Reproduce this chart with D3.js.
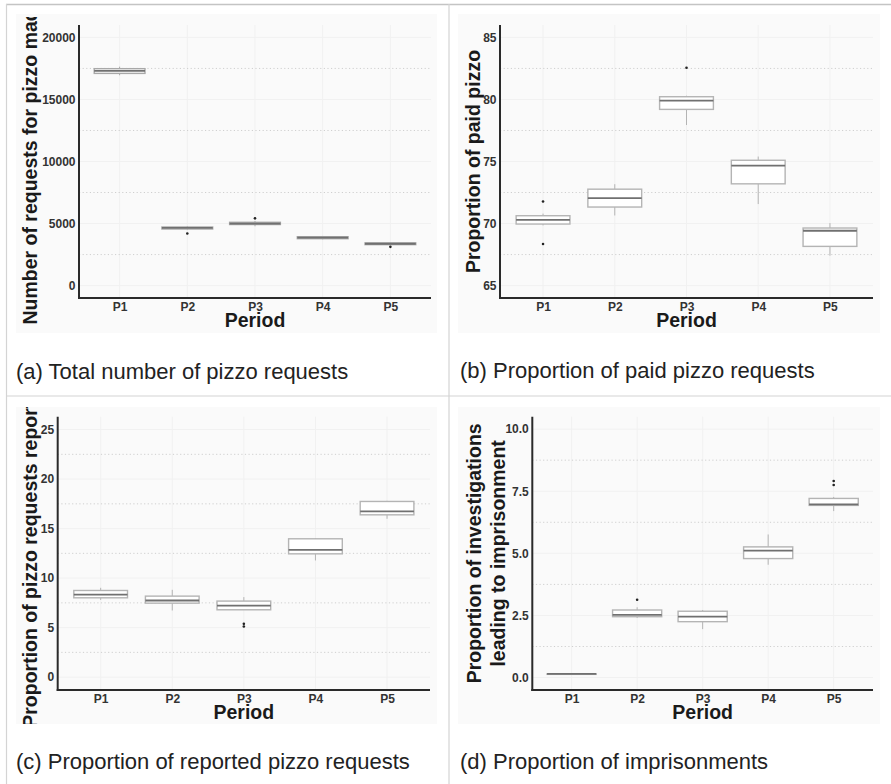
<!DOCTYPE html>
<html lang="en">
<head>
<meta charset="UTF-8">
<title>Pizzo requests by period</title>
<script src="https://d3js.org/d3.v7.min.js"></script>
<style>
  body { margin: 0; background: #fff; }
  svg text { font-family: "Liberation Sans", Arial, Helvetica, sans-serif; }
</style>
</head>
<body>
<div id="chart"></div>
<script>
// periods on the x axis
const periods = ["P1", "P2", "P3", "P4", "P5"];

// each row: [lower whisker, q1, median, q3, upper whisker]
const totalRequests = [
  [16950, 17100, 17300, 17480, 17640],
  [4520, 4560, 4650, 4720, 4780],
  [4780, 4920, 5000, 5100, 5200],
  [3730, 3780, 3860, 3940, 4000],
  [3280, 3300, 3370, 3440, 3460]
];
const totalOutliers = [[], [4200], [5420], [], [3120]];

const paidProportion = [
  [69.85, 69.96, 70.3, 70.63, 70.8],
  [70.65, 71.33, 72.05, 72.77, 73.17],
  [77.94, 79.2, 79.9, 80.22, 80.3],
  [71.57, 73.2, 74.67, 75.1, 75.4],
  [67.41, 68.16, 69.42, 69.64, 70.04]
];
const paidOutliers = [[71.78, 68.35], [], [82.55], [], []];

const reportedProportion = [
  [7.8, 8.01, 8.34, 8.75, 9.02],
  [6.73, 7.47, 7.74, 8.18, 8.82],
  [6.8, 6.8, 7.23, 7.68, 8.08],
  [11.78, 12.45, 12.86, 13.97, 14.04],
  [15.99, 16.39, 16.73, 17.74, 17.8]
];
const reportedOutliers = [[], [], [5.38, 5.11], [], []];

const imprisonProportion = [
  [0.15, 0.15, 0.15, 0.15, 0.15],
  [2.4, 2.45, 2.52, 2.72, 2.83],
  [1.95, 2.25, 2.45, 2.67, 2.72],
  [4.54, 4.79, 5.11, 5.26, 5.76],
  [6.7, 6.93, 6.97, 7.21, 7.27]
];
const imprisonOutliers = [[], [3.13], [], [], [7.91, 7.75]];

// tick labels
const ticksA = [0, 5000, 10000, 15000, 20000];
const ticksB = [65, 70, 75, 80, 85];
const ticksC = [0, 5, 10, 15, 20, 25];
const ticksD = [0, 2.5, 5, 7.5, 10];

const svg = d3.select('#chart')
  .append('svg')
  .attr('width', 891)
  .attr('height', 784);

// frame lines round the four figures
svg.append('line').attr('x1', 6).attr('x2', 891).attr('y1', 4.5).attr('y2', 4.5)
  .attr('stroke', '#c4c4c4').attr('stroke-width', 1.5);
svg.append('line').attr('x1', 6.5).attr('x2', 6.5).attr('y1', 4).attr('y2', 784)
  .attr('stroke', '#d4d4d4').attr('stroke-width', 1.2);
svg.append('line').attr('x1', 449).attr('x2', 449).attr('y1', 4).attr('y2', 784)
  .attr('stroke', '#d4d4d4').attr('stroke-width', 1.2);
svg.append('line').attr('x1', 6).attr('x2', 891).attr('y1', 396).attr('y2', 396)
  .attr('stroke', '#d4d4d4').attr('stroke-width', 1.2);

const panels = [
  {
    id: 'a', stats: totalRequests, outliers: totalOutliers, ticks: ticksA,
    domain: [-1000, 21000], fmt: d3.format('d'),
    bg: [16, 14, 437, 333], clipTop: 17, x0: 79, x1: 431, y0: 25, y1: 298,
    title: ['Number of requests for pizzo made'], titleX: [36.5],
    caption: '(a) Total number of pizzo requests', capX: 16, capY: 378.5,
    boxColor: '#a8a8a8'
  },
  {
    id: 'b', stats: paidProportion, outliers: paidOutliers, ticks: ticksB,
    domain: [64, 86], fmt: d3.format('d'),
    bg: [458, 14, 880, 333], clipTop: 14, x0: 500, x1: 873, y0: 25, y1: 298,
    title: ['Proportion of paid pizzo'], titleX: [480],
    caption: '(b) Proportion of paid pizzo requests', capX: 460, capY: 377.5,
    boxColor: '#b4b4b4'
  },
  {
    id: 'c', stats: reportedProportion, outliers: reportedOutliers, ticks: ticksC,
    domain: [-1.3, 26.3], fmt: d3.format('d'),
    bg: [16, 407, 437, 724], clipTop: 407, x0: 57.7, x1: 430, y0: 416.7, y1: 690,
    title: ['Proportion of pizzo requests reported'], titleX: [37],
    caption: '(c) Proportion of reported pizzo requests', capX: 16, capY: 769,
    boxColor: '#b4b4b4'
  },
  {
    id: 'd', stats: imprisonProportion, outliers: imprisonOutliers, ticks: ticksD,
    domain: [-0.5, 10.5], fmt: d3.format('.1f'),
    bg: [458, 407, 880, 724], clipTop: 407, x0: 532.3, x1: 873, y0: 416.7, y1: 690,
    title: ['Proportion of investigations', 'leading to imprisonment'], titleX: [481, 505],
    caption: '(d) Proportion of imprisonments', capX: 460, capY: 769,
    boxColor: '#b4b4b4'
  }
];

panels.forEach(p => {
  const g = svg.append('g');

  // panel background
  g.append('rect')
    .attr('x', p.bg[0]).attr('y', p.bg[1])
    .attr('width', p.bg[2] - p.bg[0]).attr('height', p.bg[3] - p.bg[1])
    .attr('fill', '#fafafa');

  svg.append('clipPath').attr('id', 'clip-' + p.id)
    .append('rect')
    .attr('x', p.bg[0]).attr('y', p.clipTop)
    .attr('width', p.bg[2] - p.bg[0]).attr('height', p.bg[3] - p.clipTop);

  const x = d3.scalePoint().domain(periods).range([p.x0, p.x1]).padding(0.6);
  const y = d3.scaleLinear().domain(p.domain).range([p.y1, p.y0]);
  const boxW = x.step() * 0.75;

  // major grid (very faint) and dotted minor grid
  const minor = p.ticks.slice(1).map((t, i) => (t + p.ticks[i]) / 2);
  g.selectAll('.gmaj').data(p.ticks).enter().append('line')
    .attr('x1', p.x0).attr('x2', p.x1)
    .attr('y1', d => y(d)).attr('y2', d => y(d))
    .attr('stroke', '#f1f1f1').attr('stroke-width', 1);
  g.selectAll('.gvert').data(periods).enter().append('line')
    .attr('x1', d => x(d)).attr('x2', d => x(d))
    .attr('y1', p.y0).attr('y2', p.y1)
    .attr('stroke', '#f1f1f1').attr('stroke-width', 1);
  g.selectAll('.gmin').data(minor).enter().append('line')
    .attr('x1', p.x0).attr('x2', p.x1)
    .attr('y1', d => y(d)).attr('y2', d => y(d))
    .attr('stroke', '#cfcfcf').attr('stroke-width', 1)
    .attr('stroke-dasharray', '1.2,2.4');

  // boxplots
  const boxes = g.selectAll('.box').data(p.stats).enter().append('g');
  boxes.append('line')
    .attr('x1', (d, i) => x(periods[i])).attr('x2', (d, i) => x(periods[i]))
    .attr('y1', d => y(d[4])).attr('y2', d => y(d[3]))
    .attr('stroke', p.boxColor).attr('stroke-width', 1);
  boxes.append('line')
    .attr('x1', (d, i) => x(periods[i])).attr('x2', (d, i) => x(periods[i]))
    .attr('y1', d => y(d[1])).attr('y2', d => y(d[0]))
    .attr('stroke', p.boxColor).attr('stroke-width', 1);
  boxes.append('rect')
    .attr('x', (d, i) => x(periods[i]) - boxW / 2)
    .attr('y', d => y(d[3]))
    .attr('width', boxW)
    .attr('height', d => Math.max(0.5, y(d[1]) - y(d[3])))
    .attr('fill', '#ffffff')
    .attr('stroke', p.boxColor).attr('stroke-width', 1.4);
  boxes.append('line')
    .attr('x1', (d, i) => x(periods[i]) - boxW / 2)
    .attr('x2', (d, i) => x(periods[i]) + boxW / 2)
    .attr('y1', d => y(d[2])).attr('y2', d => y(d[2]))
    .attr('stroke', '#707070').attr('stroke-width', 1.8);

  // outlier points
  p.outliers.forEach((arr, i) => {
    g.selectAll(null).data(arr).enter().append('circle')
      .attr('cx', x(periods[i]))
      .attr('cy', d => y(d))
      .attr('r', 1.3)
      .attr('fill', '#222');
  });

  // axis lines
  g.append('line').attr('x1', p.x0).attr('x2', p.x0).attr('y1', p.y0).attr('y2', p.y1 + 1)
    .attr('stroke', '#2a2a2a').attr('stroke-width', 2);
  g.append('line').attr('x1', p.x0 - 1).attr('x2', p.x1).attr('y1', p.y1).attr('y2', p.y1)
    .attr('stroke', '#2a2a2a').attr('stroke-width', 2);

  // tick labels
  const yAxis = g.append('g')
    .attr('transform', `translate(${p.x0},0)`)
    .call(d3.axisLeft(y).tickValues(p.ticks).tickFormat(p.fmt).tickSize(0).tickPadding(3.5));
  const xAxis = g.append('g')
    .attr('transform', `translate(0,${p.y1})`)
    .call(d3.axisBottom(x).tickSize(0).tickPadding(4.5));
  [yAxis, xAxis].forEach(a => {
    a.select('.domain').remove();
    a.selectAll('text')
      .attr('fill', '#333')
      .attr('font-size', '12px')
      .attr('font-weight', 'bold')
      .style('font-family', '"Liberation Sans", Arial, sans-serif');
  });

  // axis titles
  g.append('text')
    .attr('x', (p.x0 + p.x1) / 2)
    .attr('y', p.y1 + 28.7)
    .attr('text-anchor', 'middle')
    .attr('font-size', '19.5px')
    .attr('font-weight', 'bold')
    .attr('fill', '#1a1a1a')
    .text('Period');

  const tg = g.append('g').attr('clip-path', `url(#clip-${p.id})`);
  p.title.forEach((t, k) => {
    tg.append('text')
      .attr('transform', `translate(${p.titleX[k]},${(p.y0 + p.y1) / 2}) rotate(-90)`)
      .attr('text-anchor', 'middle')
      .attr('font-size', '19.5px')
      .attr('font-weight', 'bold')
      .attr('fill', '#1a1a1a')
      .text(t);
  });

  // caption under the figure
  svg.append('text')
    .attr('x', p.capX)
    .attr('y', p.capY)
    .attr('font-size', '22px')
    .attr('fill', '#222')
    .text(p.caption);
});
</script>
</body>
</html>
